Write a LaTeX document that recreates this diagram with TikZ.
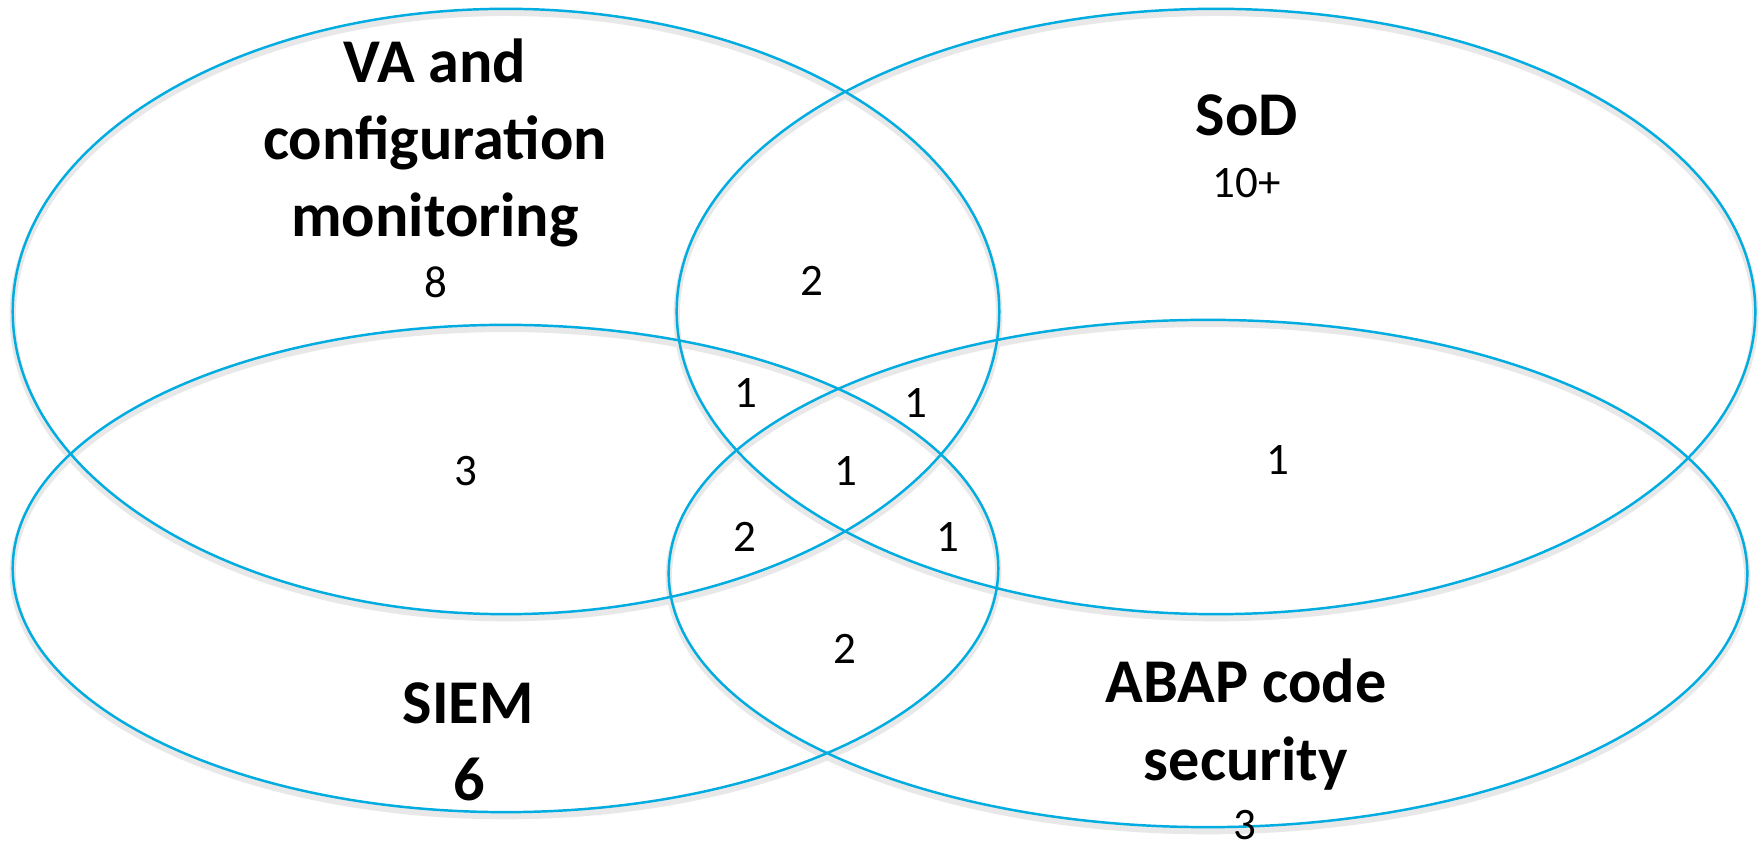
\documentclass[tikz,border=0pt]{standalone}
\usepackage{fontspec}
\setmainfont{Carlito}
\definecolor{vblue}{RGB}{0,172,224}
\begin{document}
\begin{tikzpicture}[x=0.01cm,y=-0.01cm,
  ring/.style={draw=vblue,line width=0.7pt},
  shadowring/.style={draw=black!9,line width=1.8pt},
  title/.style={anchor=base,inner sep=0pt,font=\fontsize{17.7}{21.9}\selectfont\bfseries},
  num/.style={anchor=base,inner sep=0pt,font=\fontsize{12.8}{15}\selectfont}]
\useasboundingbox (0,0) rectangle (1762,843);
\fill[white] (0,0) rectangle (1762,843);
% shadows
\begin{scope}[shift={(0,4)}]
\draw[shadowring] (506,311.5) ellipse [x radius=4.93cm, y radius=3.025cm];
\draw[shadowring] (1216,311.5) ellipse [x radius=5.39cm, y radius=3.025cm];
\draw[shadowring] (505.5,568.5) ellipse [x radius=4.925cm, y radius=2.435cm];
\draw[shadowring] (1208,573.5) ellipse [x radius=5.39cm, y radius=2.535cm];
\end{scope}
% rings
\draw[ring] (506,311.5) ellipse [x radius=4.93cm, y radius=3.025cm];
\draw[ring] (1216,311.5) ellipse [x radius=5.39cm, y radius=3.025cm];
\draw[ring] (505.5,568.5) ellipse [x radius=4.925cm, y radius=2.435cm];
\draw[ring] (1208,573.5) ellipse [x radius=5.39cm, y radius=2.535cm];
% titles
\node[title] (va1) at (435,83) {VA and};
\node[title] (va2) at (435,160) {configuration};
\node[title] (va3) at (435,237) {monitoring};
\node[num] (vaN) at (436,298) {8};
\node[title] (sod) at (1247,136) {SoD};
\node[num] (sodN) at (1247,198) {10+};
\node[title] (siem) at (468,724) {SIEM};
\node[title] (siemN) at (469,801) {6};
\node[title] (abap1) at (1246,703) {ABAP code};
\node[title] (abap2) at (1246,781) {security};
\node[num] (abapN) at (1245,840) {3};
% intersections
\node[num] (vs) at (812,296) {2};
\node[num] (vsi) at (746,408) {1};
\node[num] (vsa) at (916,418) {1};
\node[num] (vsi2) at (466,486) {3};
\node[num] (all) at (846,486) {1};
\node[num] (sa) at (1278,475) {1};
\node[num] (vsia) at (745,552) {2};
\node[num] (vsaa) at (948,552) {1};
\node[num] (sia) at (845,664) {2};
\end{tikzpicture}
\end{document}
